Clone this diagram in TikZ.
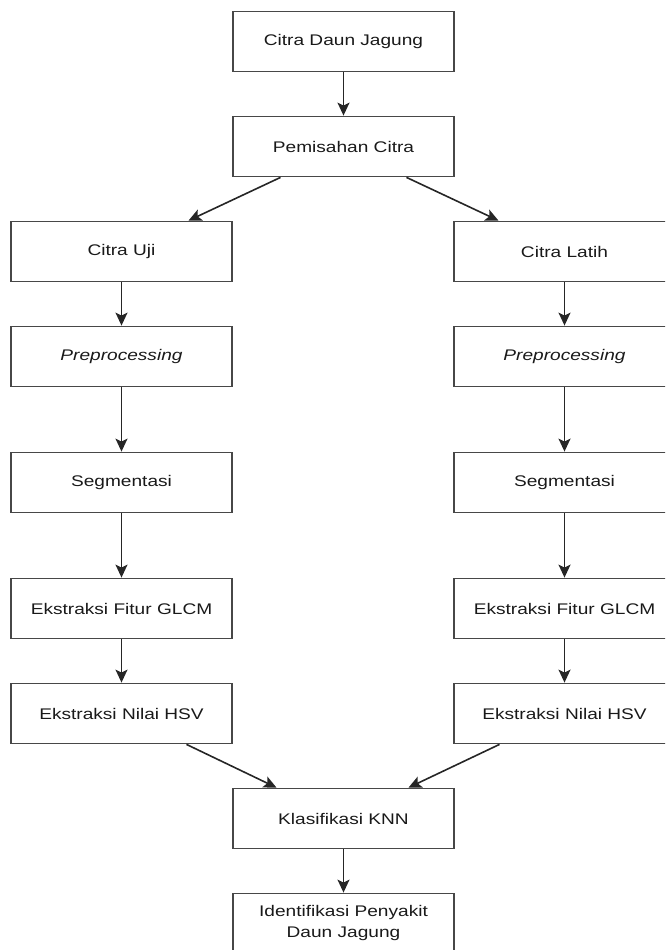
\documentclass[tikz,border=0pt]{standalone}
\usepackage{fontspec}
\setmainfont{Liberation Sans}[FakeStretch=1.24]
\usepackage{tikz}
\usetikzlibrary{positioning, arrows.meta}
\tikzstyle{process} = [rectangle, 
minimum width=221pt, 
minimum height=60pt, 
text centered, 
align=center, 
line width=1.8pt, 
draw=black!72, 
text=black!90, 
font=\fontsize{15.4}{21}\selectfont]
\tikzstyle{arrow} = [line width=1.6pt, draw=black!85, -{Stealth[length=13pt, width=12pt, inset=3pt]}]

\begin{document}
\begin{tikzpicture}[node distance=105pt]

    \useasboundingbox (0,0) rectangle (665pt,-950pt);
    \clip (0,0) rectangle (665pt,-950pt);

    \node (citra) [process] at (343.5pt,-41.5pt) {Citra Daun Jagung};
    \node (pisah) [process, below of=citra] {Pemisahan Citra};

    \node (uji) [process, below of=pisah, xshift=-222pt] {Citra Uji};
    \node (pre1) [process, below of=uji] {\textit{Preprocessing}};
    \node (seg1) [process, below of=pre1, yshift=-21pt] {Segmentasi};
    \node (glcm1) [process, below of=seg1, yshift=-21pt] {Ekstraksi Fitur GLCM};
    \node (hsv1) [process, below of=glcm1] {Ekstraksi Nilai HSV};

    \node (latih) [process, below of=pisah, xshift=221pt] {Citra Latih};
    \node (pre2) [process, below of=latih] {\textit{Preprocessing}};
    \node (seg2) [process, below of=pre2, yshift=-21pt] {Segmentasi};
    \node (glcm2) [process, below of=seg2, yshift=-21pt] {Ekstraksi Fitur GLCM};
    \node (hsv2) [process, below of=glcm2] {Ekstraksi Nilai HSV};

    \node (knn) [process, below of=hsv1, xshift=222pt] {Klasifikasi KNN};
    \node (ident) [process, below of=knn] {Identifikasi Penyakit\\Daun Jagung};

    \draw [arrow] (citra) -- (pisah);
    \draw [arrow] ([xshift=-63pt]pisah.south) -- ([xshift=67pt]uji.north);
    \draw [arrow] ([xshift=63pt]pisah.south) -- ([xshift=-66pt]latih.north);

    \draw [arrow] (uji) -- (pre1);
    \draw [arrow] (pre1) -- (seg1);
    \draw [arrow] (seg1) -- (glcm1);
    \draw [arrow] (glcm1) -- (hsv1);

    \draw [arrow] (latih) -- (pre2);
    \draw [arrow] (pre2) -- (seg2);
    \draw [arrow] (seg2) -- (glcm2);
    \draw [arrow] (glcm2) -- (hsv2);

    \draw [arrow] ([xshift=65pt]hsv1.south) -- ([xshift=-67pt]knn.north);
    \draw [arrow] ([xshift=-65pt]hsv2.south) -- ([xshift=65pt]knn.north);
    \draw [arrow] (knn) -- (ident);

\end{tikzpicture}
\end{document}
